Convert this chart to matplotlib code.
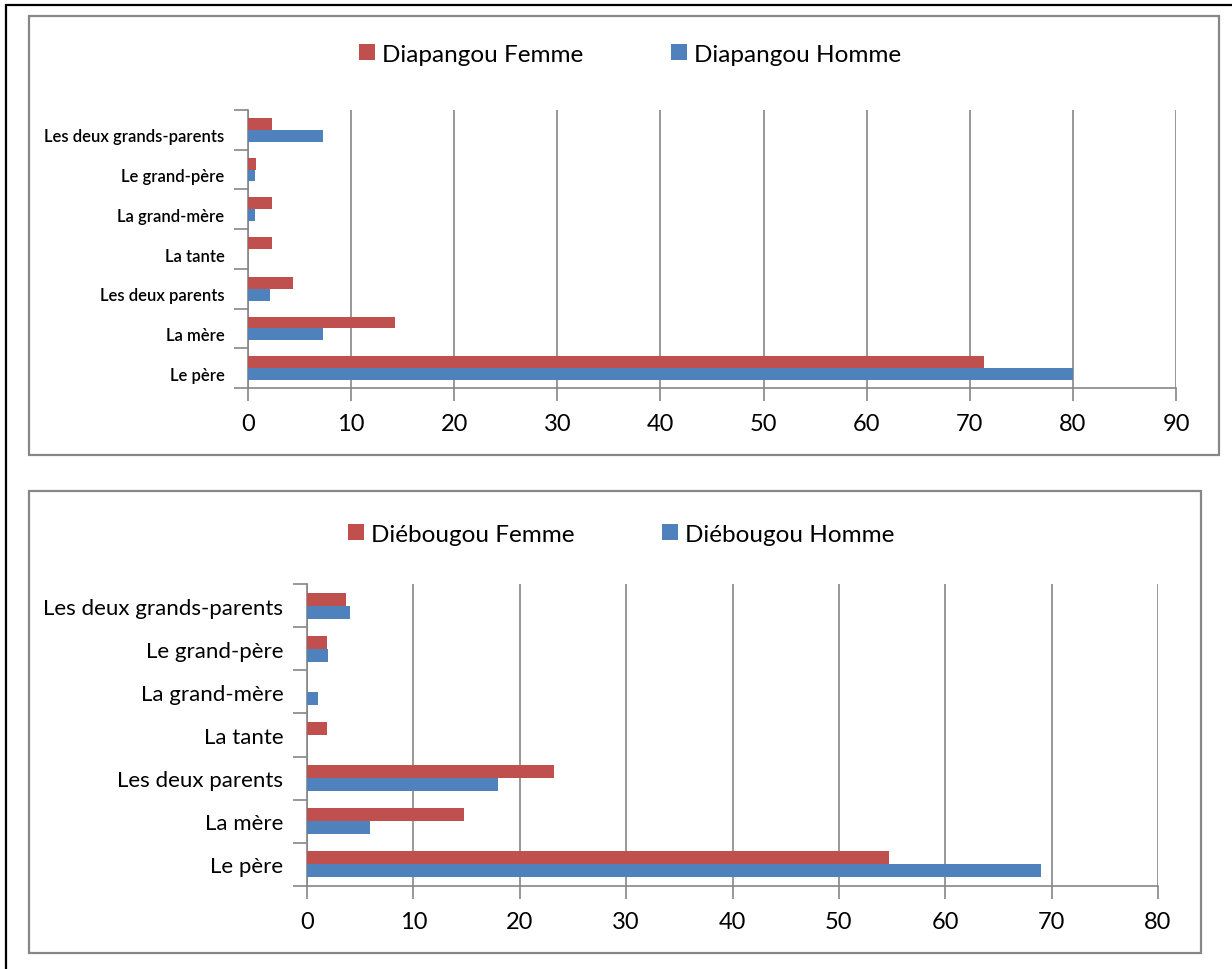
import matplotlib
matplotlib.use("Agg")
import matplotlib.pyplot as plt
import matplotlib.transforms as mtransforms
from matplotlib.patches import Rectangle
import numpy as np

# categories, bottom to top as drawn
categories = ["Le père", "La mère", "Les deux parents", "La tante",
              "La grand-mère", "Le grand-père", "Les deux grands-parents"]

# Diapangou (top chart)
diapangou_femme = [71.4, 14.3, 4.4, 2.3, 2.3, 0.8, 2.3]
diapangou_homme = [80.0, 7.3, 2.1, 0.0, 0.7, 0.7, 7.3]

# Diébougou (bottom chart)
diebougou_femme = [54.7, 14.8, 23.2, 1.9, 0.0, 1.9, 3.7]
diebougou_homme = [69.0, 5.9, 18.0, 0.0, 1.0, 2.0, 4.0]

RED = '#C0504D'
BLUE = '#4F81BD'
GRID = '#868686'
FONT = ['Lato', 'DejaVu Sans']

W, H = 1232, 970
fig = plt.figure(figsize=(W / 100, H / 100), dpi=100)
fig.patch.set_facecolor('white')


def fx(px):
    return px / W


def fy(py):
    return 1 - py / H


def draw_panel(rect, femme, homme, xmax, names, label_size, label_weight, leg_center, label_shift=0):
    ax = fig.add_axes(rect)
    y = np.arange(len(categories))
    h = 0.3
    b1 = ax.barh(y + h / 2, femme, height=h, color=RED, label=names[0], zorder=3)
    b2 = ax.barh(y - h / 2, homme, height=h, color=BLUE, label=names[1], zorder=3)
    ax.set_xlim(0, xmax)
    ax.set_ylim(-0.5, len(categories) - 0.5)
    ax.set_xticks(np.arange(0, xmax + 1, 10))
    ax.set_yticks(y)
    ax.set_yticklabels(categories, family=FONT, fontsize=label_size, fontweight=label_weight)
    ax.set_yticks(np.arange(-0.5, len(categories), 1), minor=True)
    ax.tick_params(axis='y', which='major', length=0, pad=17)
    ax.tick_params(axis='y', which='minor', length=10, color=GRID, width=1.2)
    ax.tick_params(axis='x', length=9, color=GRID, width=1.2, pad=9, labelsize=17)
    for t in ax.get_xticklabels():
        t.set_family(FONT)
    if label_shift:
        off = mtransforms.ScaledTranslation(0, -label_shift / 100, fig.dpi_scale_trans)
        for t in ax.get_yticklabels():
            t.set_transform(t.get_transform() + off)
    ax.grid(axis='x', color=GRID, linewidth=1.2, zorder=0)
    for s in ['top', 'right']:
        ax.spines[s].set_visible(False)
    for s in ['left', 'bottom']:
        ax.spines[s].set_color(GRID)
        ax.spines[s].set_linewidth(1.2)
    fig.legend(handles=[b1, b2], loc='center', bbox_to_anchor=leg_center, ncol=2,
               frameon=False, prop={'family': FONT, 'size': 17.5},
               handlelength=0.65, handleheight=0.65, handletextpad=0.3,
               columnspacing=3.6)
    return ax


draw_panel([fx(248), fy(389), fx(1176) - fx(248), fy(111) - fy(389)],
           diapangou_femme, diapangou_homme, 90,
           ["Diapangou Femme", "Diapangou Homme"], 12, 'semibold',
           (fx(630), fy(55)), label_shift=5)

draw_panel([fx(307), fy(887), fx(1158) - fx(307), fy(585) - fy(887)],
           diebougou_femme, diebougou_homme, 80,
           ["Diébougou Femme", "Diébougou Homme"], 16, 'normal',
           (fx(621), fy(535)))

# outer black frame and grey chart borders
fig.add_artist(Rectangle((fx(6), -0.1), 1.2, fy(6) + 0.1, transform=fig.transFigure,
                         fill=False, edgecolor='black', linewidth=1.6))
fig.add_artist(Rectangle((fx(29), fy(456)), fx(1219) - fx(29), fy(17) - fy(456),
                         transform=fig.transFigure, fill=False, edgecolor='#878787', linewidth=1.6))
fig.add_artist(Rectangle((fx(29), fy(954)), fx(1201) - fx(29), fy(492) - fy(954),
                         transform=fig.transFigure, fill=False, edgecolor='#878787', linewidth=1.6))

fig.savefig('out.png', dpi=100, facecolor='white')
